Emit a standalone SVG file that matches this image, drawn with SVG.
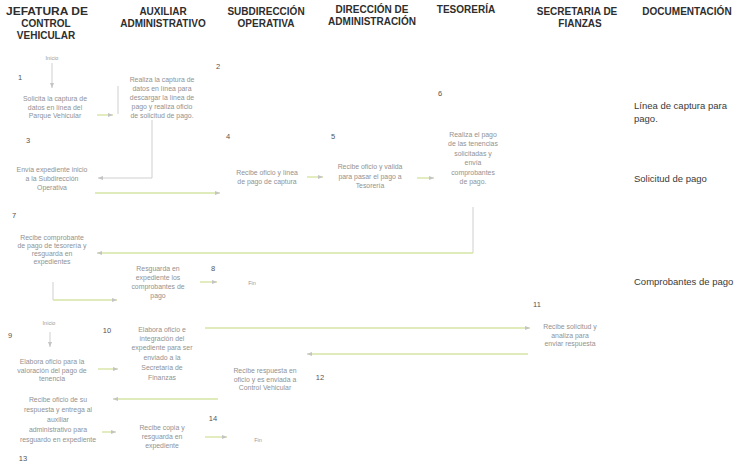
<svg xmlns="http://www.w3.org/2000/svg" width="740" height="463" viewBox="0 0 740 463">
<style>
.hdr{font-family:"Liberation Sans",Arial,sans-serif;font-size:10px;font-weight:bold;fill:#2e2e2e;text-anchor:middle}
.nt{font-family:"Liberation Sans",Arial,sans-serif;font-size:6.9px;fill:#929292;text-anchor:middle}
.sm{font-family:"Liberation Sans",Arial,sans-serif;font-size:5.5px;fill:#9a9a9a;text-anchor:middle}
.num{font-family:"Liberation Sans",Arial,sans-serif;font-size:7.5px;fill:#555;text-anchor:middle}
.doc{font-family:"Liberation Sans",Arial,sans-serif;font-size:9.5px;fill:#3a3a3a}
.g{fill:none;stroke:#d6e4a4;stroke-width:1.4}
.gr{fill:none;stroke:#cfcfcf;stroke-width:1}
</style>
<defs>
<marker id="ah" markerUnits="userSpaceOnUse" markerWidth="5" markerHeight="4" refX="5" refY="2" orient="auto">
<path d="M0,0 L5,2 L0,4 z" fill="#c4c4c4"/>
</marker>
</defs>
<rect width="740" height="463" fill="#ffffff"/>
<g id="headers">
<text class="hdr" x="47" y="15" textLength="82" lengthAdjust="spacingAndGlyphs">JEFATURA DE</text>
<text class="hdr" x="46" y="27">CONTROL</text>
<text class="hdr" x="46" y="39">VEHICULAR</text>
<text class="hdr" x="163" y="15">AUXILIAR</text>
<text class="hdr" x="163" y="27">ADMINISTRATIVO</text>
<text class="hdr" x="266" y="15">SUBDIRECCIÓN</text>
<text class="hdr" x="266" y="27">OPERATIVA</text>
<text class="hdr" x="372" y="13">DIRECCIÓN DE</text>
<text class="hdr" x="372" y="25">ADMINISTRACIÓN</text>
<text class="hdr" x="466" y="13">TESORERÍA</text>
<text class="hdr" x="577" y="15">SECRETARIA DE</text>
<text class="hdr" x="580" y="27">FIANZAS</text>
<text class="hdr" x="687" y="15">DOCUMENTACIÓN</text>
</g>
<g id="connectors">
<path class="gr" d="M52,63 V88" marker-end="url(#ah)"/>
<path class="g" d="M97,115 H113" marker-end="url(#ah)"/>
<path class="gr" d="M118,86 V114"/>
<path class="gr" d="M152,120 V178 H98" marker-end="url(#ah)"/>
<path class="g" d="M95,193 H220" marker-end="url(#ah)"/>
<path class="g" d="M307,177 H323" marker-end="url(#ah)"/>
<path class="g" d="M417,178 H434" marker-end="url(#ah)"/>
<path class="gr" d="M473,207 V253"/>
<path class="g" d="M473,253 H97" marker-end="url(#ah)"/>
<path class="gr" d="M53,282 V300"/>
<path class="g" d="M53,300 H117" marker-end="url(#ah)"/>
<path class="g" d="M200,282 H217" marker-end="url(#ah)"/>
<path class="gr" d="M50,332 V347" marker-end="url(#ah)"/>
<path class="g" d="M98,369 H118" marker-end="url(#ah)"/>
<path class="g" d="M205,328 H530" marker-end="url(#ah)"/>
<path class="g" d="M528,354 H307" marker-end="url(#ah)"/>
<path class="g" d="M218,399 H113" marker-end="url(#ah)"/>
<path class="g" d="M102,432 H116" marker-end="url(#ah)"/>
<path class="g" d="M205,437 H227" marker-end="url(#ah)"/>
</g>
<g id="start1"><text class="sm" x="52" y="60">Inicio</text></g>
<g id="n1">
<text class="num" x="20" y="80">1</text>
<text class="nt" x="55" y="101">Solicita la captura de</text>
<text class="nt" x="55" y="109.5">datos en línea del</text>
<text class="nt" x="55" y="118">Parque Vehicular</text>
</g>
<g id="n2">
<text class="num" x="218" y="69">2</text>
<text class="nt" x="162" y="82">Realiza la captura de</text>
<text class="nt" x="162" y="91">datos en línea para</text>
<text class="nt" x="162" y="100">descargar la línea de</text>
<text class="nt" x="162" y="109">pago y realiza oficio</text>
<text class="nt" x="162" y="118">de solicitud de pago.</text>
</g>
<g id="n3">
<text class="num" x="28" y="143">3</text>
<text class="nt" x="52" y="172">Envía expediente inicio</text>
<text class="nt" x="52" y="181">a la Subdirección</text>
<text class="nt" x="52" y="190">Operativa</text>
</g>
<g id="n4">
<text class="num" x="228" y="139">4</text>
<text class="nt" x="267" y="175">Recibe oficio y línea</text>
<text class="nt" x="267" y="183.5">de pago de captura</text>
</g>
<g id="n5">
<text class="num" x="333" y="139">5</text>
<text class="nt" x="370" y="169">Recibe oficio y valida</text>
<text class="nt" x="370" y="178.5">para pasar el pago a</text>
<text class="nt" x="370" y="188">Tesorería</text>
</g>
<g id="n6">
<text class="num" x="440" y="96">6</text>
<text class="nt" x="473" y="137">Realiza el pago</text>
<text class="nt" x="473" y="146">de las tenencias</text>
<text class="nt" x="473" y="155.5">solicitadas y</text>
<text class="nt" x="473" y="165">envía</text>
<text class="nt" x="473" y="174.5">comprobantes</text>
<text class="nt" x="473" y="184">de pago.</text>
</g>
<g id="n7">
<text class="num" x="14" y="218">7</text>
<text class="nt" x="52" y="240">Recibe comprobante</text>
<text class="nt" x="52" y="248">de pago de tesorería y</text>
<text class="nt" x="52" y="256">resguarda en</text>
<text class="nt" x="52" y="264">expedientes</text>
</g>
<g id="n8">
<text class="num" x="213" y="271">8</text>
<text class="nt" x="158" y="271">Resguarda en</text>
<text class="nt" x="158" y="280">expediente los</text>
<text class="nt" x="158" y="289">comprobantes de</text>
<text class="nt" x="158" y="298">pago</text>
</g>
<g id="end1"><text class="sm" x="252" y="285">Fin</text></g>
<g id="start2"><text class="sm" x="49" y="325">Inicio</text></g>
<g id="n9">
<text class="num" x="10" y="338">9</text>
<text class="nt" x="52" y="364">Elabora oficio para la</text>
<text class="nt" x="52" y="372.5">valoración del pago de</text>
<text class="nt" x="52" y="381">tenencia</text>
</g>
<g id="n10">
<text class="num" x="107" y="333">10</text>
<text class="nt" x="162" y="332">Elabora oficio e</text>
<text class="nt" x="162" y="341">integración del</text>
<text class="nt" x="162" y="350">expediente para ser</text>
<text class="nt" x="162" y="360">enviado a la</text>
<text class="nt" x="162" y="370">Secretaría de</text>
<text class="nt" x="162" y="380">Finanzas</text>
</g>
<g id="n11">
<text class="num" x="537" y="307">11</text>
<text class="nt" x="570" y="329">Recibe solicitud y</text>
<text class="nt" x="570" y="337.5">analiza para</text>
<text class="nt" x="570" y="346">enviar respuesta</text>
</g>
<g id="n12">
<text class="num" x="320" y="380">12</text>
<text class="nt" x="265" y="373">Recibe respuesta en</text>
<text class="nt" x="265" y="381.5">oficio y es enviada a</text>
<text class="nt" x="265" y="390">Control Vehicular</text>
</g>
<g id="n13">
<text class="num" x="23" y="461">13</text>
<text class="nt" x="58" y="402">Recibe oficio de su</text>
<text class="nt" x="58" y="412">respuesta y entrega al</text>
<text class="nt" x="58" y="422">auxiliar</text>
<text class="nt" x="58" y="432">administrativo para</text>
<text class="nt" x="58" y="442">resguardo en expediente</text>
</g>
<g id="n14">
<text class="num" x="213" y="421">14</text>
<text class="nt" x="162" y="430">Recibe copia y</text>
<text class="nt" x="162" y="439">resguarda en</text>
<text class="nt" x="162" y="448">expediente</text>
</g>
<g id="end2"><text class="sm" x="258" y="442">Fin</text></g>
<g id="documentacion">
<text class="doc" x="634" y="109">Línea de captura para</text>
<text class="doc" x="634" y="122">pago.</text>
<text class="doc" x="634" y="182">Solicitud de pago</text>
<text class="doc" x="634" y="285">Comprobantes de pago</text>
</g>
</svg>
